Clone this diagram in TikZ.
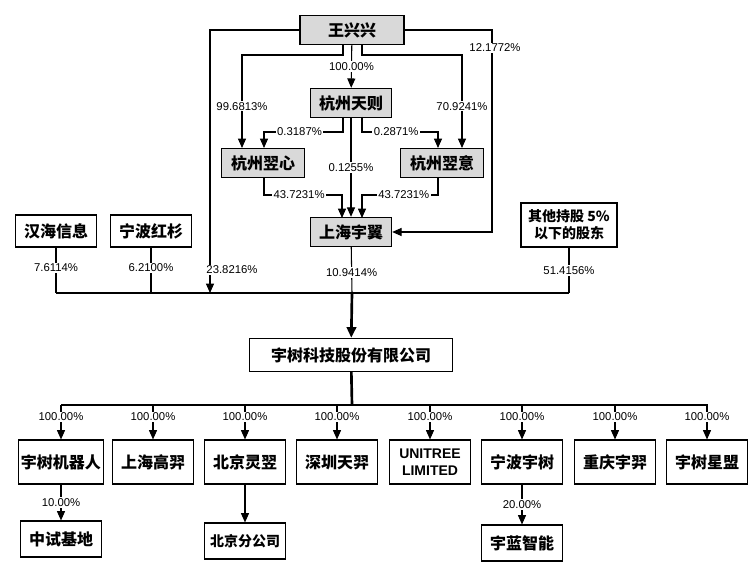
\documentclass[tikz,border=0pt]{standalone}
\usepackage{fontspec}
\setmainfont{Liberation Sans}
\newfontfamily\cjk{Noto Sans CJK SC}
\usetikzlibrary{arrows.meta}
\begin{document}
\begin{tikzpicture}[x=0.75pt,y=-0.75pt,
  gbox/.style={draw,thick,fill=black!15,minimum height=22pt,inner sep=2pt,font=\cjk\bfseries\fontsize{12}{13}\selectfont},
  wbox/.style={draw,thick,fill=white,minimum width=61pt,minimum height=33pt,inner sep=2pt,font=\cjk\bfseries\fontsize{12}{13}\selectfont},
  pct/.style={fill=white,inner sep=1pt,font=\fontsize{8.5}{9}\selectfont},
  ln/.style={thick},
  ar/.style={thick,-{Triangle[width=6pt,length=7pt]}}]
\useasboundingbox (0,0) rectangle (754,577);
% top group
\node[gbox,minimum width=78pt] (w) at (352,30) {王兴兴};
\node[gbox,minimum width=61pt] (tz) at (351,103) {杭州天则};
\node[gbox,minimum width=62pt] (yx) at (263,163) {杭州翌心};
\node[gbox,minimum width=62pt] (yy) at (442,163) {杭州翌意};
\node[gbox,minimum width=61pt] (sh) at (351,232) {上海宇翼};
\node[draw,thick,minimum width=61pt,minimum height=24pt,font=\cjk\bfseries\fontsize{12}{13}\selectfont] (hh) at (56,231) {汉海信息};
\node[draw,thick,minimum width=61pt,minimum height=24pt,font=\cjk\bfseries\fontsize{12}{13}\selectfont] (nb) at (151,231) {宁波红杉};
\node[draw,thick,minimum width=72pt,minimum height=33pt,align=center,font=\cjk\bfseries\fontsize{10.5}{12.5}\selectfont] (qt) at (569,225) {其他持股 5\%\\以下的股东};
\node[draw,thick,minimum width=152pt,minimum height=25pt,font=\cjk\bfseries\fontsize{12}{13}\selectfont] (co) at (351,355) {宇树科技股份有限公司};
\coordinate (bus) at (352,293);
% connectors top
\draw[ar] (343,45) -- (343,55) -- (242,55) -- (242,148) node[pct,pos=0.55] {99.6813\%};
\draw[ar] (362,45) -- (362,55) -- (462,55) -- (462,148) node[pct,pos=0.55] {70.9241\%};
\draw[ar] (w) -- (tz) node[pct,midway] {100.00\%};
\draw[ar] (343,117) -- (343,132) -- (264,132) node[pct,pos=0.55] {0.3187\%} -- (264,148);
\draw[ar] (362,117) -- (362,132) -- (438,132) node[pct,pos=0.45] {0.2871\%} -- (438,148);
\draw[ar] (tz) -- (sh) node[pct,midway] {0.1255\%};
\draw[ar] (264,178) -- (264,195) -- (342,195) node[pct,pos=0.45] {43.7231\%} -- (342,218);
\draw[ar] (438,178) -- (438,195) -- (362,195) node[pct,pos=0.45] {43.7231\%} -- (362,218);
\draw[ar] (w.west) -- (210,30) -- (210,293);
\draw[ar] (w.east) -- (492,30) -- (492,232) -- (sh.east);
\node[pct] at (495,48) {12.1772\%};
% to bus
\draw[ln] (hh) -- (56,293) node[pct,pos=0.45] {7.6114\%};
\draw[ln] (nb) -- (151,293) node[pct,pos=0.45] {6.2100\%};
\node[pct] at (232,270) {23.8216\%};
\draw[ln] (sh) -- (352,293) node[pct,pos=0.55] {10.9414\%};
\draw[ln] (qt) -- (569,293) node[pct,pos=0.5] {51.4156\%};
\draw[ln] (56,293) -- (569,293);
\draw[line width=2pt,-{Triangle[width=7pt,length=8pt]}] (bus) -- (co);
% bottom
\draw[line width=2pt] (co) -- (352,405);
\draw[ln] (61,405) -- (708,405);
\foreach \n/\x/\t in {a/61/宇树机器人,b/153/上海高羿,c/245/北京灵翌,d/337/深圳天羿,f/522/宁波宇树,g/615/重庆宇羿,h/707/宇树星盟}{
  \node[wbox] (\n) at (\x,462) {\t};
  \draw[ar] (\x,405) -- (\n) node[pct,pos=0.35] {100.00\%};
}
\node[wbox,align=center,font=\bfseries\fontsize{10.5}{12.5}\selectfont] (e) at (430,462) {UNITREE\\LIMITED};
\draw[ar] (430,405) -- (e) node[pct,pos=0.35] {100.00\%};
\node[wbox,minimum height=27pt] (a2) at (61,539) {中试基地};
\node[wbox,minimum height=27pt,font=\cjk\bfseries\fontsize{10.5}{12}\selectfont] (c2) at (245,541) {北京分公司};
\node[wbox,minimum height=27pt] (f2) at (522,543) {宇蓝智能};
\draw[ar] (a) -- (a2) node[pct,midway] {10.00\%};
\draw[ar] (c) -- (c2);
\draw[ar] (f) -- (f2) node[pct,midway] {20.00\%};
\end{tikzpicture}
\end{document}
